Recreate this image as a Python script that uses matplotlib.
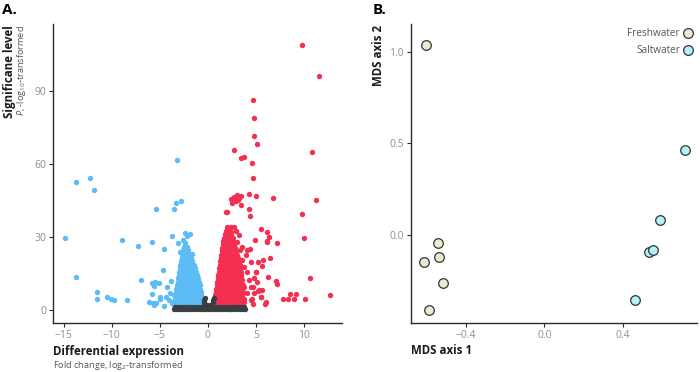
import matplotlib
matplotlib.use("Agg")
import matplotlib.pyplot as plt
from matplotlib.lines import Line2D

plt.rcParams['font.family'] = ['Open Sans', 'DejaVu Sans']
plt.rcParams['mathtext.fontset'] = 'custom'
plt.rcParams['mathtext.rm'] = 'Open Sans'
plt.rcParams['mathtext.it'] = 'Open Sans:italic'

# ---- Panel A: volcano plot data ----
# dense clouds, stored as rows: (y, [x values])
blue_rows = [
    (2.0, [-3.5, -3.15, -2.8, -2.45, -2.1, -1.75, -1.4, -1.05, -0.7, -0.5]),
    (3.3, [-3.6, -3.25, -2.9, -2.55, -2.2, -1.85, -1.5, -1.15, -0.8, -0.5]),
    (4.6, [-3.45, -3.1, -2.75, -2.4, -2.05, -1.7, -1.35, -1.0, -0.6]),
    (6.0, [-3.5, -3.15, -2.8, -2.45, -2.1, -1.75, -1.4, -1.05, -0.7]),
    (7.4, [-3.35, -3.0, -2.65, -2.3, -1.95, -1.6, -1.25, -0.9, -0.7]),
    (8.8, [-3.3, -2.95, -2.6, -2.25, -1.9, -1.55, -1.2, -0.8]),
    (10.2, [-3.25, -2.9, -2.55, -2.2, -1.85, -1.5, -1.15, -0.85]),
    (11.6, [-3.15, -2.8, -2.45, -2.1, -1.75, -1.4, -0.95]),
    (13.0, [-3.1, -2.75, -2.4, -2.05, -1.7, -1.35, -1.05]),
    (14.4, [-3.0, -2.65, -2.3, -1.95, -1.6, -1.1]),
    (15.8, [-2.95, -2.6, -2.25, -1.9, -1.55, -1.2]),
    (17.2, [-2.9, -2.55, -2.2, -1.85, -1.5, -1.3]),
    (18.6, [-2.85, -2.45, -2.1, -1.75, -1.45]),
    (20.0, [-2.75, -2.4, -2.05, -1.6]),
    (21.5, [-2.7, -2.3, -1.95, -1.7]),
    (23.0, [-2.65, -2.25, -1.9]),
    (24.5, [-2.55, -2.1]),
    (26.0, [-2.45, -2.2]),
    (27.5, [-2.35]),
]
red_rows = [
    (2.0, [0.6, 0.95, 1.3, 1.65, 2.0, 2.35, 2.7, 3.05, 3.4, 3.7]),
    (3.3, [0.65, 1.0, 1.35, 1.7, 2.05, 2.4, 2.75, 3.1, 3.45, 3.8]),
    (4.6, [0.7, 1.05, 1.4, 1.75, 2.1, 2.45, 2.8, 3.15, 3.5, 3.8]),
    (6.0, [0.75, 1.1, 1.45, 1.8, 2.15, 2.5, 2.85, 3.2, 3.55]),
    (7.4, [0.8, 1.15, 1.5, 1.85, 2.2, 2.55, 2.9, 3.25, 3.65]),
    (8.8, [0.85, 1.2, 1.55, 1.9, 2.25, 2.6, 2.95, 3.3, 3.6]),
    (10.2, [0.95, 1.3, 1.65, 2.0, 2.35, 2.7, 3.05, 3.4, 3.7]),
    (11.6, [1.0, 1.35, 1.7, 2.05, 2.4, 2.75, 3.1, 3.45]),
    (13.0, [1.05, 1.4, 1.75, 2.1, 2.45, 2.8, 3.15, 3.5]),
    (14.4, [1.1, 1.45, 1.8, 2.15, 2.5, 2.85, 3.2, 3.45]),
    (15.8, [1.15, 1.5, 1.85, 2.2, 2.55, 2.9, 3.25, 3.4]),
    (17.2, [1.2, 1.55, 1.9, 2.25, 2.6, 2.95, 3.3]),
    (18.6, [1.25, 1.6, 1.95, 2.3, 2.65, 3.0, 3.3]),
    (20.0, [1.3, 1.65, 2.0, 2.35, 2.7, 3.05, 3.2]),
    (21.4, [1.35, 1.7, 2.05, 2.4, 2.75, 3.1]),
    (22.8, [1.4, 1.75, 2.1, 2.45, 2.8, 3.0]),
    (24.2, [1.45, 1.8, 2.15, 2.5, 2.9]),
    (25.6, [1.5, 1.85, 2.2, 2.55, 2.85]),
    (27.0, [1.55, 1.9, 2.25, 2.6, 2.75]),
    (28.4, [1.6, 1.95, 2.3, 2.65]),
    (29.8, [1.65, 2.0, 2.35, 2.6]),
    (31.2, [1.75, 2.1, 2.4]),
    (32.6, [1.85, 2.2]),
    (34.0, [1.95, 2.4]),
]
grey_rows = [
    (0.5, [-3.55, -3.25, -2.95, -2.65, -2.35, -2.05, -1.75, -1.45, -1.15, -0.85, -0.55,
           -0.25, 0.05, 0.35, 0.65, 0.95, 1.25, 1.55, 1.85, 2.15, 2.45, 2.75, 3.05, 3.35,
           3.65, 3.9]),
    (1.3, [-3.4, -3.1, -2.8, -2.5, -2.2, -1.9, -1.6, -1.3, -1.0, -0.7, -0.4, -0.1, 0.2,
           0.5, 0.8, 1.1, 1.4, 1.7, 2.0, 2.3, 2.6, 2.9, 3.2, 3.5, 3.8]),
    (2.2, [-0.45, -0.1, 0.25, 0.45]),
    (3.2, [-0.4, 0.5]),
    (4.1, [-0.35, 0.55]),
    (5.0, [-0.3, 0.6]),
]

# scattered significant genes
blue_x = [-14.82, -13.67, -12.25, -11.79, -13.67, -11.52, -11.52, -10.53, -10.08, -9.74,
          -8.41, -8.93, -7.23, -6.91, -5.80, -5.41, -3.49, -3.28, -2.83, -3.18, -3.77,
          -4.54, -4.68, -5.76, -5.48, -5.62, -5.03, -6.14, -5.72, -5.55, -5.34, -4.93,
          -4.54, -4.96, -5.76, -3.08, -2.34, -1.89, -2.17, -4.2, -3.9, -4.0, -3.8, -4.4,
          -3.7, -2.6, -1.6, -2.9]
blue_y = [29.7, 52.6, 54.4, 49.4, 13.4, 7.3, 4.7, 5.3, 4.7, 4.1,
          4.2, 28.6, 26.3, 12.2, 27.8, 41.4, 41.5, 44.1, 44.9, 61.8, 30.3,
          25.1, 16.4, 11.0, 11.6, 9.9, 11.2, 3.4, 3.0, 2.2, 2.8, 4.5,
          1.8, 5.5, 6.6, 27.4, 31.5, 31.1, 30.4, 9.5, 7.0, 4.2, 11.8, 5.5,
          3.0, 28.8, 23.0, 24.0]
red_x = [9.76, 11.54, 4.70, 4.84, 4.80, 5.12, 2.75, 3.44, 3.76, 4.63, 10.81, 4.70,
         4.28, 5.05, 6.76, 11.22, 2.43, 2.71, 2.99, 3.23, 3.48, 2.54, 2.88, 3.13, 3.44,
         4.32, 2.02, 4.38, 9.76, 9.97, 7.14, 6.13, 6.41, 6.20, 6.10, 4.95, 5.57, 10.60,
         12.72, 10.14, 9.13, 8.99, 8.50, 8.36, 7.84, 7.07, 7.21, 6.23, 5.61, 5.01, 6.44,
         5.78, 5.22, 6.06, 5.92, 5.61, 5.50, 4.67, 4.56, 4.74, 5.22, 3.58, 4.11, 4.39,
         3.93, 4.46, 3.76, 4.11, 4.98, 4.80, 3.58, 4.28, 5.16, 3.76, 4.46, 5.33, 4.11,
         4.80, 5.50, 3.76, 4.46, 2.71, 2.96, 2.36, 3.23, 1.91, 3.0, 3.3, 3.6]
red_y = [108.8, 96.2, 86.4, 78.8, 71.5, 68.2, 65.8, 62.5, 63.0, 60.4, 64.9, 54.1,
         47.8, 47.0, 46.0, 45.3, 45.5, 46.3, 47.1, 45.9, 46.9, 43.9, 44.8, 45.2, 43.3,
         41.5, 40.2, 38.5, 39.6, 29.6, 27.7, 31.9, 30.1, 28.4, 28.0, 28.6, 33.3, 13.0,
         6.2, 4.6, 6.7, 4.6, 6.5, 4.6, 4.6, 12.0, 10.8, 13.7, 18.1, 15.6, 21.2,
         20.4, 19.6, 3.3, 2.6, 8.2, 5.2, 2.7, 4.4, 9.3, 7.9, 26.0, 24.7, 25.0,
         22.6, 19.9, 17.8, 15.7, 15.7, 13.0, 12.3, 12.3, 11.6, 9.6, 9.3, 8.2, 6.9,
         6.9, 5.5, 4.1, 4.1, 34.2, 32.6, 32.2, 30.8, 40.2, 28.0, 24.5, 20.5]

# ---- Panel B: MDS ----
fresh_x = [-0.599, -0.540, -0.535, -0.612, -0.513, -0.587]
fresh_y = [1.036, -0.044, -0.118, -0.145, -0.260, -0.407]
salt_x = [0.714, 0.587, 0.530, 0.553, 0.462]
salt_y = [0.463, 0.082, -0.089, -0.078, -0.354]


def unpack(rows):
    xs, ys = [], []
    for y, row in rows:
        xs += row
        ys += [y] * len(row)
    return xs, ys


BLUE = '#5bbcf6'
RED = '#f52f52'
GREY = '#393e42'
TICK = '#8f8f8f'
AXIS = '#2b2b2b'


def style_axis(ax):
    for side in ['top', 'right']:
        ax.spines[side].set_visible(False)
    for side in ['left', 'bottom']:
        ax.spines[side].set_color(AXIS)
        ax.spines[side].set_linewidth(1.0)
    ax.tick_params(colors=AXIS, labelcolor=TICK, labelsize=7.5, length=3, width=0.8, pad=2)


fig = plt.figure(figsize=(7, 3.72), dpi=100)
W, H = 700, 372

# panel A
axA = fig.add_axes([53 / W, 1 - 323 / H, (342 - 53) / W, (323 - 24) / H])
bx, by = unpack(blue_rows)
rx, ry = unpack(red_rows)
gx, gy = unpack(grey_rows)
axA.scatter(bx + blue_x, by + blue_y, s=15, color=BLUE, linewidths=0)
axA.scatter(rx + red_x, ry + red_y, s=15, color=RED, linewidths=0)
axA.scatter(gx, gy, s=15, color=GREY, linewidths=0)
axA.set_xlim(-16.1, 13.95)
axA.set_ylim(-5.3, 117.5)
axA.set_xticks([-15, -10, -5, 0, 5, 10])
axA.set_xticklabels(['\u221215', '\u221210', '\u22125', '0', '5', '10'])
axA.set_yticks([0, 30, 60, 90])
style_axis(axA)

fig.text(2 / W, 1 - 3 / H, 'A.', fontsize=11, fontweight='bold', va='top', ha='left')
fig.text(10 / W, 1 - 25 / H, 'Significane level', fontsize=8.3, fontweight='bold',
         rotation=90, va='top', ha='center', color='#1a1a1a')
fig.text(22 / W, 1 - 25 / H, r'$\mathit{P}$, -log$_{10}$-transformed', fontsize=6.6,
         rotation=90, va='top', ha='center', color='#555555')
fig.text(53 / W, 1 - 351 / H, 'Differential expression', fontsize=8.3, fontweight='bold',
         va='center', ha='left', color='#1a1a1a')
fig.text(53 / W, 1 - 365 / H, r'Fold change, log$_{2}$-transformed', fontsize=6.6,
         va='center', ha='left', color='#555555')

# panel B
axB = fig.add_axes([411 / W, 1 - 323 / H, (697 - 411) / W, (323 - 24) / H])
axB.scatter(fresh_x, fresh_y, s=48, color='#ebebd2', edgecolors='#333333', linewidths=0.9,
            zorder=3)
axB.scatter(salt_x, salt_y, s=48, color='#b2f1f7', edgecolors='#333333', linewidths=0.9,
            zorder=3)
axB.set_xlim(-0.677, 0.775)
axB.set_ylim(-0.478, 1.151)
axB.set_xticks([-0.4, 0.0, 0.4])
axB.set_xticklabels(['\u22120.4', '0.0', '0.4'])
axB.set_yticks([0.0, 0.5, 1.0])
axB.set_yticklabels(['0.0', '0.5', '1.0'])
style_axis(axB)

handles = [
    Line2D([], [], marker='o', linestyle='none', markersize=7, markerfacecolor='#ebebd2',
           markeredgecolor='#333333', markeredgewidth=0.9, label='Freshwater'),
    Line2D([], [], marker='o', linestyle='none', markersize=7, markerfacecolor='#b2f1f7',
           markeredgecolor='#333333', markeredgewidth=0.9, label='Saltwater'),
]
leg = axB.legend(handles=handles, loc='upper right', bbox_to_anchor=(1.0, 1.0),
                 frameon=False, markerfirst=False, fontsize=7.2, handletextpad=0.3,
                 labelspacing=0.6, borderaxespad=0.0, handlelength=1.0)
for t in leg.get_texts():
    t.set_color('#555555')

fig.text(373 / W, 1 - 3 / H, 'B.', fontsize=11, fontweight='bold', va='top', ha='left')
fig.text(378 / W, 1 - 25 / H, 'MDS axis 2', fontsize=8.3, fontweight='bold',
         rotation=90, va='top', ha='center', color='#1a1a1a')
fig.text(411 / W, 1 - 351 / H, 'MDS axis 1', fontsize=8.3, fontweight='bold',
         va='center', ha='left', color='#1a1a1a')

fig.savefig('out.png', dpi=100)
